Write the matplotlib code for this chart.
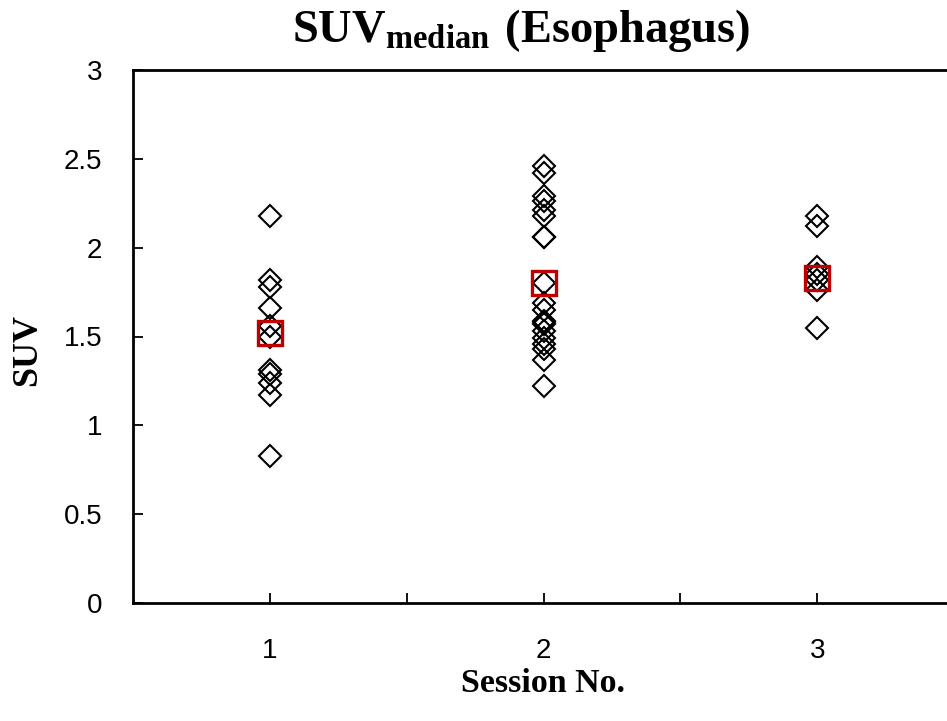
import numpy as np
import matplotlib
matplotlib.use('Agg')
import matplotlib.pyplot as plt

# Datos
sesiones = [1, 2, 3]
suv_s1 = [2.18, 1.82, 1.78, 1.66, 1.56, 1.50, 1.31, 1.29, 1.24, 1.17, 0.83]
suv_s2 = [2.46, 2.42, 2.29, 2.26, 2.21, 2.18, 2.06, 2.06, 1.80, 1.69, 1.65,
          1.59, 1.58, 1.57, 1.53, 1.49, 1.46, 1.43, 1.37, 1.22]
suv_s3 = [2.18, 2.12, 1.89, 1.85, 1.82, 1.76, 1.55]
centro = [1.52, 1.80, 1.83]

y_ticks = [0, 0.5, 1, 1.5, 2, 2.5, 3]
y_labels = ['0', '0.5', '1', '1.5', '2', '2.5', '3']

plt.rcParams['font.family'] = ['Liberation Sans', 'DejaVu Sans']
plt.rcParams['mathtext.fontset'] = 'custom'
plt.rcParams['mathtext.rm'] = 'Liberation Serif'
plt.rcParams['mathtext.bf'] = 'Liberation Serif:bold'

fig = plt.figure(figsize=(9.47, 7.21), dpi=100)
# el eje se sale un poco por la derecha, como en la original (x hasta 3.5)
ax = fig.add_axes([133/947, 1 - 603/721, (954 - 133)/947, (603 - 70)/721])

for s, vals in zip(sesiones, [suv_s1, suv_s2, suv_s3]):
    ax.plot([s]*len(vals), vals, linestyle='none', marker='D', ms=11.5,
            mfc='none', mec='black', mew=1.5, zorder=3)

ax.plot(sesiones, centro, linestyle='none', marker='s', ms=17,
        mfc='none', mec='#C00000', mew=2.4, zorder=4)

ax.set_xlim(0.5, 3.5)
ax.set_ylim(0, 3)
ax.set_xticks([1, 2, 3])
ax.set_xticks([1.5, 2.5], minor=True)
ax.set_yticks(y_ticks)
ax.set_yticklabels(y_labels)

for sp in ax.spines.values():
    sp.set_linewidth(2)
ax.tick_params(axis='both', which='both', direction='in', length=7, width=1.3,
               labelsize=20)
ax.tick_params(axis='x', which='both', pad=25)
ax.tick_params(axis='y', pad=22)
ax.tick_params(axis='x', which='minor', labelbottom=False)

fig.text(521/947, 1 - 42/721, r'$\mathbf{SUV_{median}\ (Esophagus)}$',
         fontsize=33.5, ha='center', va='baseline')
fig.text(543/947, 1 - 692/721, 'Session No.', family='Liberation Serif',
         fontweight='bold', fontsize=24.5, ha='center', va='baseline')
fig.text(28/947, 1 - 350/721, 'SUV', family='Liberation Serif',
         fontweight='bold', fontsize=26, ha='center', va='center', rotation=90)

fig.savefig('out.png', dpi=100)
